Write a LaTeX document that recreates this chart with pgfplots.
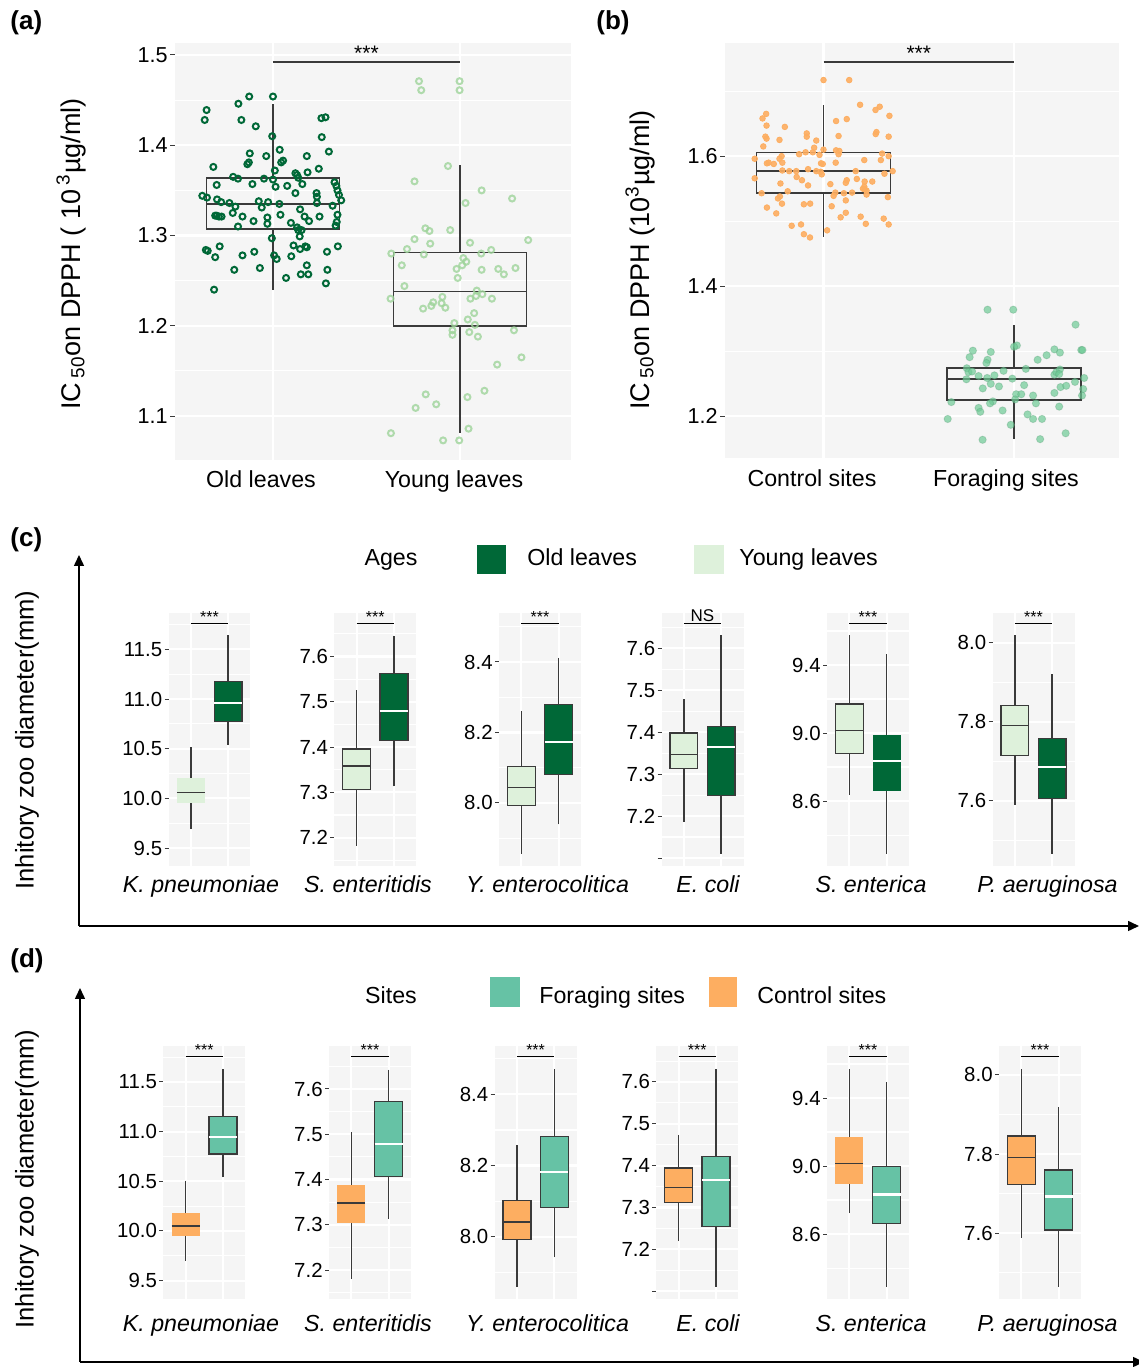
\documentclass[border=0pt]{standalone}
\usepackage{fontspec}
\setmainfont{Liberation Sans}
\usepackage{pgfplots}
\pgfplotsset{compat=1.18}
\usepgfplotslibrary{statistics}
\usetikzlibrary{arrows.meta}
\definecolor{dkg}{HTML}{006837}
\definecolor{ltg}{HTML}{DEF1DB}
\definecolor{tealc}{HTML}{66C2A5}
\definecolor{orng}{HTML}{FDAE61}
\definecolor{pbg}{HTML}{F5F5F5}
\definecolor{bxl}{HTML}{3A3A3A}
\definecolor{ylp}{HTML}{9ED49A}
\definecolor{mint}{HTML}{6FCB96}
\newcommand{\lgfont}{\fontsize{11.6}{12}\selectfont}
\newcommand{\ylfont}{\fontsize{12.8}{13}\selectfont}
\newcommand{\catfont}{\fontsize{11.6}{12}\selectfont}
\pgfplotsset{
  ggbase/.style={
    scale only axis, clip=false,
    axis background/.style={fill=pbg},
    axis line style={draw=none},
    xmajorgrids, ymajorgrids, yminorgrids,
    major grid style={white, line width=1.1pt},
    minor grid style={white, line width=0.55pt},
    xtick={1,2}, xticklabels={},
    major tick length=2pt, minor tick length=0pt,
    tick align=outside,
    xtick style={draw=none},
    ytick style={draw=bxl, line width=0.5pt},
    ytick pos=left,
    /pgf/number format/assume math mode=true,
    yticklabel style={text=black, inner sep=1pt},
  },
  mini/.style={ggbase, width=41pt, height=126.5pt, xmin=0.4, xmax=2.6,
    yticklabel style={font=\fontsize{10.2}{11}\selectfont}},
  wmed/.style={boxplot/every median/.style={draw=white, line width=1.1pt}},
  dmed/.style={boxplot/every median/.style={draw=bxl, line width=0.8pt}},
  nobox/.style={boxplot/every box/.style={draw=none}},
}
% pos, lw, lq, med, uq, uw, fill, extra
\newcommand{\bxp}[8]{\addplot[fill=#7, draw=bxl, line width=0.65pt, #8,
  boxplot prepared={draw direction=y, draw position=#1, lower whisker=#2, lower quartile=#3,
  median=#4, upper quartile=#5, upper whisker=#6, box extend=0.75, whisker extend=0}] coordinates {};}
\newcommand{\sig}[1]{\draw[line width=0.6pt, black] (rel axis cs:0.2727,0.957) -- (rel axis cs:0.7273,0.957);
  \node[anchor=base, inner sep=0pt, yshift=0.8pt, font=\fontsize{8}{8}\selectfont] at (rel axis cs:0.5,0.957) {#1};}

\pgfplotstableread{
x y
0.622 1.344
0.647 1.342
0.645 1.439
0.635 1.428
0.681 1.376
0.699 1.356
0.701 1.340
0.723 1.337
0.691 1.322
0.711 1.321
0.725 1.321
0.699 1.322
0.767 1.336
0.785 1.325
0.799 1.332
0.813 1.310
0.837 1.321
0.787 1.365
0.813 1.363
0.815 1.446
0.831 1.428
0.873 1.454
0.908 1.421
0.876 1.391
0.863 1.379
0.871 1.381
0.890 1.357
0.896 1.316
0.924 1.338
0.940 1.331
0.952 1.363
0.964 1.388
0.970 1.320
0.970 1.313
0.974 1.337
1.000 1.454
0.996 1.410
1.010 1.372
1.000 1.362
1.014 1.354
1.036 1.395
1.044 1.381
1.054 1.383
1.034 1.335
1.040 1.323
1.076 1.355
1.096 1.314
1.120 1.369
1.120 1.347
1.129 1.367
1.135 1.364
1.157 1.357
1.145 1.329
1.129 1.309
1.135 1.306
1.153 1.306
1.143 1.299
1.169 1.321
1.193 1.316
1.185 1.370
1.181 1.388
1.245 1.374
1.259 1.430
1.281 1.431
1.261 1.409
1.299 1.393
1.233 1.347
1.235 1.343
1.235 1.336
1.249 1.321
1.329 1.359
1.339 1.355
1.345 1.350
1.353 1.345
1.365 1.339
1.319 1.333
1.345 1.323
1.341 1.315
1.335 1.311
0.641 1.284
0.651 1.283
0.715 1.288
0.691 1.276
0.837 1.278
0.900 1.282
0.994 1.297
1.006 1.278
1.020 1.274
1.098 1.277
1.110 1.289
1.145 1.285
1.173 1.288
1.181 1.287
1.181 1.267
1.149 1.257
1.189 1.257
1.070 1.253
0.930 1.264
0.793 1.262
0.685 1.240
1.289 1.282
1.291 1.262
1.347 1.288
1.283 1.247
}\oldpts
\pgfplotstableread{
x y
1.781 1.471
1.793 1.461
1.998 1.471
1.998 1.461
1.936 1.377
1.757 1.360
2.116 1.350
2.279 1.341
2.030 1.336
1.815 1.308
1.837 1.305
1.948 1.306
1.757 1.296
1.841 1.291
2.054 1.292
2.365 1.295
1.633 1.280
1.717 1.285
1.807 1.279
2.018 1.275
2.034 1.271
2.114 1.280
2.167 1.284
1.689 1.267
1.982 1.263
2.012 1.267
2.116 1.262
2.205 1.263
2.235 1.257
2.297 1.264
1.988 1.253
1.703 1.244
1.629 1.230
1.803 1.219
1.847 1.222
1.857 1.226
1.906 1.232
1.902 1.225
1.922 1.220
2.090 1.239
2.056 1.230
2.086 1.233
2.120 1.235
2.171 1.230
2.076 1.214
2.042 1.207
1.970 1.203
1.960 1.195
1.960 1.190
2.050 1.193
2.080 1.201
2.096 1.188
2.289 1.195
2.329 1.165
2.199 1.157
1.817 1.124
1.873 1.113
1.763 1.109
2.040 1.121
2.131 1.128
1.631 1.081
1.910 1.073
1.996 1.073
2.046 1.086
}\youngpts
\pgfplotstableread{
x y
1.000 1.717
1.135 1.717
1.192 1.679
1.295 1.676
1.273 1.671
1.346 1.662
0.699 1.665
0.680 1.658
1.122 1.657
1.066 1.654
0.701 1.647
0.797 1.645
1.079 1.631
1.278 1.637
1.274 1.634
1.342 1.630
0.695 1.630
0.701 1.627
0.769 1.625
0.912 1.635
0.912 1.630
0.962 1.624
0.684 1.615
0.951 1.613
1.000 1.610
0.872 1.603
0.906 1.606
1.066 1.609
1.083 1.608
1.079 1.603
0.944 1.606
0.979 1.602
1.308 1.604
1.342 1.600
0.639 1.596
0.780 1.600
0.769 1.596
0.712 1.590
0.739 1.588
0.703 1.589
0.784 1.590
1.064 1.590
1.214 1.594
1.301 1.594
0.987 1.589
0.996 1.588
0.784 1.578
0.820 1.577
0.857 1.577
0.919 1.580
0.962 1.577
0.985 1.576
0.991 1.572
1.169 1.577
1.320 1.573
1.363 1.577
0.639 1.566
0.859 1.568
0.887 1.563
0.919 1.555
1.036 1.557
0.774 1.558
1.122 1.563
1.117 1.559
1.175 1.565
1.216 1.561
1.256 1.561
1.214 1.553
1.216 1.549
1.226 1.547
1.207 1.550
0.675 1.543
0.812 1.546
0.771 1.538
0.761 1.535
0.782 1.527
1.062 1.544
1.053 1.539
1.107 1.543
1.150 1.544
1.226 1.541
1.338 1.537
0.703 1.521
0.752 1.512
0.897 1.526
0.930 1.527
1.043 1.523
1.117 1.532
1.117 1.513
1.090 1.506
1.195 1.507
0.833 1.493
0.882 1.495
0.897 1.480
0.929 1.475
1.019 1.486
1.222 1.496
1.316 1.504
1.342 1.495
}\ctrlpts
\pgfplotstableread{
x y
1.861 1.364
1.996 1.364
2.323 1.341
2.015 1.309
2.000 1.307
1.784 1.301
1.878 1.299
1.767 1.291
1.861 1.287
1.855 1.282
2.124 1.287
2.171 1.294
2.212 1.303
2.241 1.298
2.353 1.302
2.359 1.302
1.752 1.274
1.761 1.268
1.780 1.269
1.750 1.257
1.814 1.262
1.859 1.259
1.897 1.263
1.945 1.270
2.062 1.273
1.991 1.258
1.878 1.250
1.921 1.246
1.836 1.243
2.053 1.248
2.212 1.264
2.222 1.268
2.241 1.272
2.237 1.265
2.244 1.245
2.274 1.247
2.320 1.253
2.368 1.259
2.363 1.242
2.357 1.232
2.212 1.236
2.011 1.234
2.038 1.234
2.006 1.226
2.100 1.232
1.671 1.222
1.889 1.223
1.874 1.220
2.115 1.220
2.237 1.215
1.814 1.213
1.823 1.207
1.940 1.209
2.071 1.203
2.100 1.196
2.147 1.196
1.652 1.196
1.983 1.187
2.271 1.174
1.835 1.164
2.137 1.165
}\forpts

\begin{document}
\begin{tikzpicture}[x=0.5pt,y=0.5pt]
\path[use as bounding box] (0,0) rectangle (1139,1367);

% ---------------- (a)
\begin{axis}[ggbase, at={(87.5pt,453.5pt)}, anchor=south west, width=198pt, height=208.5pt,
  xmin=0.476, xmax=2.594, ymin=1.0513, ymax=1.5133,
  ytick={1.1,1.2,1.3,1.4,1.5}, yticklabels={1.1,1.2,1.3,1.4,1.5},
  minor ytick={1.15,1.25,1.35,1.45}, major tick length=2.5pt,
  yticklabel style={font=\fontsize{10.8}{11}\selectfont}]
\addplot[only marks, mark=o, color=dkg, mark size=1.5pt, mark options={line width=1pt}] table {\oldpts};
\addplot[only marks, mark=o, color=ylp, mark size=1.5pt, mark options={line width=1pt, opacity=0.8}] table {\youngpts};
\addplot[draw=bxl, line width=0.75pt, boxplot/every median/.style={draw=bxl, line width=0.9pt},
  boxplot prepared={draw direction=y, draw position=1, lower whisker=1.240, lower quartile=1.307, median=1.335,
  upper quartile=1.364, upper whisker=1.446, box extend=0.71, whisker extend=0}] coordinates {};
\addplot[draw=bxl, line width=0.75pt, boxplot/every median/.style={draw=bxl, line width=0.9pt},
  boxplot prepared={draw direction=y, draw position=2, lower whisker=1.081, lower quartile=1.200, median=1.238,
  upper quartile=1.281, upper whisker=1.378, box extend=0.71, whisker extend=0}] coordinates {};
\draw[line width=0.75pt, bxl] (axis cs:1,1.492) -- (axis cs:2,1.492);
\node[anchor=base, inner sep=0pt, font=\fontsize{10.5}{10}\selectfont] at (axis cs:1.5,1.4935) {***};
\end{axis}

% ---------------- (b)
\begin{axis}[ggbase, at={(362.5pt,454.5pt)}, anchor=south west, width=197pt, height=207.5pt,
  xmin=0.483, xmax=2.551, ymin=1.136, ymax=1.774,
  ytick={1.2,1.4,1.6}, yticklabels={1.2,1.4,1.6},
  minor ytick={1.3,1.5,1.7}, major tick length=2.5pt,
  yticklabel style={font=\fontsize{10.8}{11}\selectfont}]
\addplot[only marks, mark=*, color=orng, mark size=1.4pt, mark options={draw=none, fill opacity=0.9}] table {\ctrlpts};
\addplot[only marks, mark=*, color=mint, mark size=1.85pt, mark options={fill=mint, draw=mint!75!black, fill opacity=0.7, draw opacity=0.3, line width=0.4pt}] table {\forpts};
\addplot[draw=bxl, line width=0.75pt, boxplot/every median/.style={draw=bxl, line width=0.9pt},
  boxplot prepared={draw direction=y, draw position=1, lower whisker=1.475, lower quartile=1.543, median=1.577,
  upper quartile=1.606, upper whisker=1.678, box extend=0.705, whisker extend=0}] coordinates {};
\addplot[draw=bxl, line width=0.75pt, boxplot/every median/.style={draw=bxl, line width=0.9pt},
  boxplot prepared={draw direction=y, draw position=2, lower whisker=1.165, lower quartile=1.225, median=1.257,
  upper quartile=1.274, upper whisker=1.341, box extend=0.705, whisker extend=0}] coordinates {};
\draw[line width=0.75pt, bxl] (axis cs:1,1.745) -- (axis cs:2,1.745);
\node[anchor=base, inner sep=0pt, font=\fontsize{10.5}{10}\selectfont] at (axis cs:1.5,1.7465) {***};
\end{axis}

% ---------------- (c)
\begin{axis}[mini, at={(84.25pt,250.5pt)}, anchor=south west, ymin=9.319, ymax=11.866,
  ytick={9.5,10,10.5,11,11.5}, yticklabels={9.5,10.0,10.5,11.0,11.5}, minor ytick={9.75,10.25,10.75,11.25,11.75}]
\bxp{1}{9.691}{9.956}{10.060}{10.208}{10.513}{ltg}{nobox,dmed}
\bxp{2}{10.537}{10.775}{10.960}{11.174}{11.641}{dkg}{wmed}
\sig{***}
\end{axis}
\begin{axis}[mini, at={(167.15pt,250.5pt)}, anchor=south west, ymin=7.1375, ymax=7.696,
  ytick={7.2,7.3,7.4,7.5,7.6}, yticklabels={7.2,7.3,7.4,7.5,7.6}, minor ytick={7.15,7.25,7.35,7.45,7.55,7.65}]
\bxp{1}{7.182}{7.307}{7.358}{7.396}{7.525}{ltg}{dmed}
\bxp{2}{7.313}{7.414}{7.479}{7.563}{7.646}{dkg}{wmed}
\sig{***}
\end{axis}
\begin{axis}[mini, at={(249.5pt,250.5pt)}, anchor=south west, ymin=7.821, ymax=8.539,
  ytick={8.0,8.2,8.4}, yticklabels={8.0,8.2,8.4}, minor ytick={7.9,8.1,8.3,8.5}]
\bxp{1}{7.856}{7.992}{8.044}{8.104}{8.260}{ltg}{dmed}
\bxp{2}{7.939}{8.081}{8.173}{8.280}{8.412}{dkg}{wmed}
\sig{***}
\end{axis}
\begin{axis}[mini, at={(330.75pt,250.5pt)}, anchor=south west, ymin=7.081, ymax=7.684,
  ytick={7.1,7.2,7.3,7.4,7.5,7.6}, yticklabels={{},7.2,7.3,7.4,7.5,7.6}, minor ytick={7.15,7.25,7.35,7.45,7.55,7.65}]
\bxp{1}{7.187}{7.313}{7.347}{7.398}{7.479}{ltg}{dmed}
\bxp{2}{7.110}{7.249}{7.364}{7.413}{7.631}{dkg}{wmed}
\draw[line width=0.6pt, black] (rel axis cs:0.2727,0.957) -- (rel axis cs:0.7273,0.957);
\node[anchor=base, inner sep=0pt, yshift=1pt, font=\fontsize{8.5}{9}\selectfont] at (rel axis cs:0.5,0.957) {NS};
\end{axis}
\begin{axis}[mini, at={(413.5pt,250.5pt)}, anchor=south west, ymin=8.218, ymax=9.706,
  ytick={8.6,9.0,9.4}, yticklabels={8.6,9.0,9.4}, minor ytick={8.4,8.8,9.2,9.6}]
\bxp{1}{8.635}{8.880}{9.016}{9.171}{9.575}{ltg}{dmed}
\bxp{2}{8.290}{8.659}{8.837}{8.990}{9.463}{dkg}{nobox,wmed}
\sig{***}
\end{axis}
\begin{axis}[mini, at={(496.25pt,250.5pt)}, anchor=south west, ymin=7.435, ymax=8.075,
  ytick={7.6,7.8,8.0}, yticklabels={7.6,7.8,8.0}, minor ytick={7.5,7.7,7.9}]
\bxp{1}{7.590}{7.714}{7.790}{7.841}{8.019}{ltg}{dmed}
\bxp{2}{7.466}{7.606}{7.685}{7.757}{7.920}{dkg}{wmed}
\sig{***}
\end{axis}

% ---------------- (d)
\begin{axis}[mini, at={(81.65pt,34pt)}, anchor=south west, ymin=9.315, ymax=11.862,
  ytick={9.5,10,10.5,11,11.5}, yticklabels={9.5,10.0,10.5,11.0,11.5}, minor ytick={9.75,10.25,10.75,11.25,11.75}]
\bxp{1}{9.698}{9.946}{10.047}{10.181}{10.503}{orng}{nobox,dmed}
\bxp{2}{10.540}{10.775}{10.943}{11.154}{11.631}{tealc}{wmed}
\sig{***}
\end{axis}
\begin{axis}[mini, at={(164.5pt,34pt)}, anchor=south west, ymin=7.136, ymax=7.695,
  ytick={7.2,7.3,7.4,7.5,7.6}, yticklabels={7.2,7.3,7.4,7.5,7.6}, minor ytick={7.15,7.25,7.35,7.45,7.55,7.65}]
\bxp{1}{7.181}{7.303}{7.348}{7.388}{7.504}{orng}{nobox,dmed}
\bxp{2}{7.313}{7.407}{7.479}{7.572}{7.643}{tealc}{wmed}
\sig{***}
\end{axis}
\begin{axis}[mini, at={(247.3pt,34pt)}, anchor=south west, ymin=7.825, ymax=8.536,
  ytick={8.0,8.2,8.4}, yticklabels={8.0,8.2,8.4}, minor ytick={7.9,8.1,8.3,8.5}]
\bxp{1}{7.858}{7.993}{8.042}{8.101}{8.258}{orng}{dmed}
\bxp{2}{7.942}{8.083}{8.182}{8.281}{8.471}{tealc}{wmed}
\sig{***}
\end{axis}
\begin{axis}[mini, at={(328.15pt,34pt)}, anchor=south west, ymin=7.081, ymax=7.686,
  ytick={7.1,7.2,7.3,7.4,7.5,7.6}, yticklabels={{},7.2,7.3,7.4,7.5,7.6}, minor ytick={7.15,7.25,7.35,7.45,7.55,7.65}]
\bxp{1}{7.219}{7.312}{7.348}{7.394}{7.474}{orng}{dmed}
\bxp{2}{7.110}{7.254}{7.365}{7.422}{7.630}{tealc}{wmed}
\sig{***}
\end{axis}
\begin{axis}[mini, at={(413.5pt,34pt)}, anchor=south west, ymin=8.218, ymax=9.706,
  ytick={8.6,9.0,9.4}, yticklabels={8.6,9.0,9.4}, minor ytick={8.4,8.8,9.2,9.6}]
\bxp{1}{8.722}{8.896}{9.014}{9.169}{9.569}{orng}{nobox,dmed}
\bxp{2}{8.290}{8.661}{8.833}{8.996}{9.494}{tealc}{wmed}
\sig{***}
\end{axis}
\begin{axis}[mini, at={(499.5pt,34pt)}, anchor=south west, ymin=7.434, ymax=8.073,
  ytick={7.6,7.8,8.0}, yticklabels={7.6,7.8,8.0}, minor ytick={7.5,7.7,7.9}]
\bxp{1}{7.589}{7.723}{7.791}{7.846}{8.014}{orng}{dmed}
\bxp{2}{7.465}{7.608}{7.693}{7.760}{7.918}{tealc}{wmed}
\sig{***}
\end{axis}

% ---------------- text, arrows, legends
\node[anchor=base west, inner sep=0pt, font=\bfseries\fontsize{13}{13}\selectfont] at (10,1337.5) {(a)};
\node[anchor=base west, inner sep=0pt, font=\bfseries\fontsize{13}{13}\selectfont] at (596,1337.5) {(b)};
\node[anchor=base west, inner sep=0pt, font=\bfseries\fontsize{13}{13}\selectfont] at (10,820) {(c)};
\node[anchor=base west, inner sep=0pt, font=\bfseries\fontsize{13}{13}\selectfont] at (10,399) {(d)};

\node[rotate=90, font=\fontsize{13.5}{14}\selectfont] at (71,1113) {IC\,\textsubscript{50}on DPPH ( 10\,\textsuperscript{3}µg/ml)};
\node[rotate=90, font=\fontsize{13.5}{14}\selectfont] at (640,1107) {IC\,\textsubscript{50}on DPPH (10\textsuperscript{3}µg/ml)};
\node[rotate=90, font=\ylfont] at (27,627) {Inhitory zoo diameter(mm)};
\node[rotate=90, font=\ylfont] at (27,188) {Inhitory zoo diameter(mm)};

\node[anchor=base, inner sep=0pt, font=\catfont] at (261,879) {Old leaves};
\node[anchor=base, inner sep=0pt, font=\catfont] at (454,879) {Young leaves};
\node[anchor=base, inner sep=0pt, font=\catfont] at (812,880) {Control sites};
\node[anchor=base, inner sep=0pt, font=\catfont] at (1006,880) {Foraging sites};

\foreach \xx/\tt in {201/K. pneumoniae, 368/S. enteritidis, 547.5/Y. enterocolitica, 708/E. coli, 871/S. enterica, 1047.5/P. aeruginosa}{
  \node[anchor=base, inner sep=0pt, font=\catfont\itshape] at (\xx,474) {\tt};
  \node[anchor=base, inner sep=0pt, font=\catfont\itshape] at (\xx,35) {\tt};
}

\draw[line width=0.75pt, -{Triangle[length=5.5pt,width=5pt]}] (79,441) -- (79,812);
\draw[line width=0.75pt, -{Triangle[length=5.5pt,width=5pt]}] (79,441) -- (1139,441);
\draw[line width=0.75pt, -{Triangle[length=5.5pt,width=5pt]}] (80,5) -- (80,379);
\draw[line width=0.75pt, -{Triangle[length=5.5pt,width=5pt]}] (80,5) -- (1144,5);

\node[anchor=base, inner sep=0pt, font=\lgfont] at (391,801) {Ages};
\fill[dkg] (477,793) rectangle (506,822);
\node[anchor=base west, inner sep=0pt, font=\lgfont] at (527,801) {Old leaves};
\fill[ltg] (694,793) rectangle (724,822);
\node[anchor=base west, inner sep=0pt, font=\lgfont] at (739,801) {Young leaves};

\node[anchor=base, inner sep=0pt, font=\lgfont] at (391,363) {Sites};
\fill[tealc] (490,360) rectangle (520,390);
\node[anchor=base west, inner sep=0pt, font=\lgfont] at (539,363) {Foraging sites};
\fill[orng] (709,360) rectangle (737,390);
\node[anchor=base west, inner sep=0pt, font=\lgfont] at (757,363) {Control sites};
\end{tikzpicture}
\end{document}
